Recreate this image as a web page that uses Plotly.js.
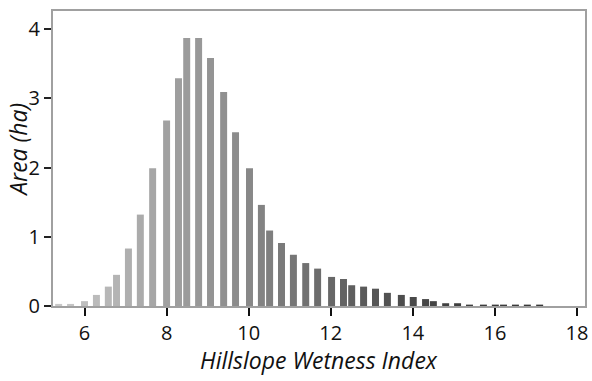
<!DOCTYPE html>
<html>
<head>
<meta charset="utf-8">
<script src="https://cdn.plot.ly/plotly-3.0.1.min.js"></script>
<style>
  html, body { margin: 0; padding: 0; background: #ffffff; }
  #chart { width: 592px; height: 381px; }
</style>
</head>
<body>
<div id="chart"></div>
<script>
// Hillslope Wetness Index histogram: bin centre and area (ha) per bin
const hwiBins = [
  5.37, 5.66, 6.00, 6.29, 6.58, 6.78, 7.07, 7.36, 7.66, 8.00,
  8.29, 8.49, 8.78, 9.07, 9.39, 9.68, 10.02, 10.31, 10.51, 10.80,
  11.09, 11.39, 11.68, 12.02, 12.31, 12.51, 12.80, 13.09, 13.38, 13.72,
  14.01, 14.31, 14.50, 14.80, 15.09, 15.38, 15.72, 16.01, 16.21, 16.50,
  16.79, 17.09
];
const areaHa = [
  0.03, 0.03, 0.07, 0.16, 0.28, 0.45, 0.83, 1.32, 1.99, 2.68,
  3.29, 3.87, 3.87, 3.58, 3.09, 2.51, 1.99, 1.46, 1.09, 0.91,
  0.74, 0.62, 0.54, 0.42, 0.39, 0.30, 0.28, 0.25, 0.19, 0.16,
  0.13, 0.10, 0.07, 0.04, 0.04, 0.02, 0.02, 0.02, 0.02, 0.02,
  0.02, 0.02
];
const xTicks = [6, 8, 10, 12, 14, 16, 18];
const yTicks = [0, 1, 2, 3, 4];

// grey ramp: light bins at low index, dark bins in the wet tail
const greyRamp = [
  [0.00, '#c9c9c9'],
  [0.22, '#a2a2a2'],
  [0.31, '#959595'],
  [0.40, '#878787'],
  [0.48, '#777777'],
  [0.57, '#676767'],
  [0.65, '#575757'],
  [0.74, '#494949'],
  [0.82, '#3f3f3f'],
  [1.00, '#383838']
];

const font = 'Open Sans, Noto Sans, sans-serif';
const ink = '#111111';

const trace = {
  type: 'bar',
  x: hwiBins,
  y: areaHa,
  width: 0.17,
  marker: {
    color: hwiBins,
    colorscale: greyRamp,
    cmin: hwiBins[0],
    cmax: hwiBins[hwiBins.length - 1],
    line: { width: 0 }
  },
  hoverinfo: 'x+y'
};

const layout = {
  width: 592,
  height: 381,
  margin: { l: 53, r: 7, t: 11, b: 75 },
  paper_bgcolor: '#ffffff',
  plot_bgcolor: '#ffffff',
  showlegend: false,
  font: { family: font, size: 20, color: ink },
  xaxis: {
    range: [5.232, 18.195],
    tickvals: xTicks,
    ticktext: xTicks.map(String),
    ticks: 'outside',
    ticklen: 8,
    tickwidth: 2,
    tickcolor: ink,
    showline: true,
    linecolor: '#a0a0a0',
    linewidth: 2,
    mirror: true,
    showgrid: false,
    zeroline: false,
    tickfont: { family: font, size: 20, color: ink }
  },
  yaxis: {
    range: [0, 4.26],
    tickvals: yTicks,
    ticktext: yTicks.map(String),
    ticks: 'outside',
    ticklen: 7,
    tickwidth: 2,
    tickcolor: '#222222',
    showline: true,
    linecolor: '#a0a0a0',
    linewidth: 2,
    mirror: true,
    showgrid: false,
    zeroline: false,
    tickfont: { family: font, size: 20, color: ink }
  },
  annotations: [
    {
      text: 'Hillslope Wetness Index',
      xref: 'paper', yref: 'paper',
      x: 0.5, y: -0.183,
      xanchor: 'center', yanchor: 'middle',
      showarrow: false,
      font: { family: font, size: 23, color: ink, style: 'italic' }
    },
    {
      text: 'Area (ha)',
      xref: 'paper', yref: 'paper',
      x: -0.066, y: 0.529,
      xanchor: 'center', yanchor: 'middle',
      textangle: -90,
      showarrow: false,
      font: { family: font, size: 23, color: ink, style: 'italic' }
    }
  ]
};

Plotly.newPlot('chart', [trace], layout, { displayModeBar: false, staticPlot: true });
</script>
</body>
</html>
